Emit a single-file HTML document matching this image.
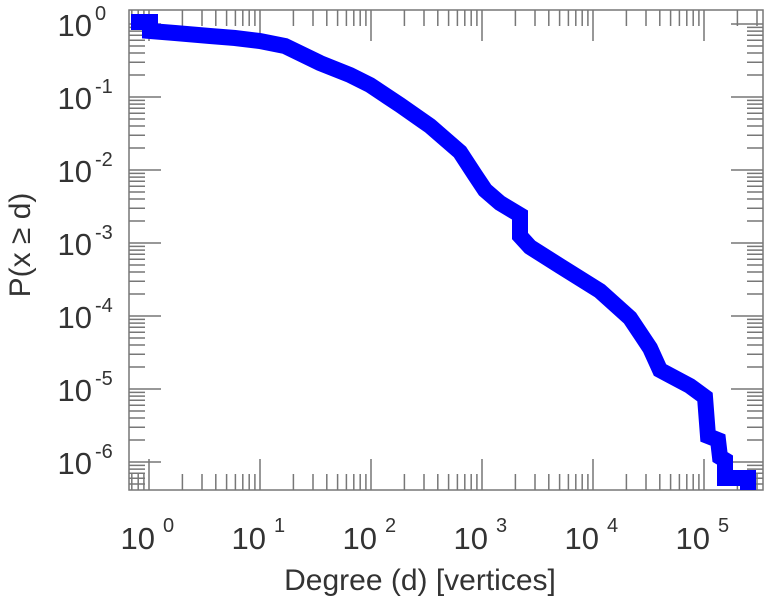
<!DOCTYPE html>
<html><head><style>body{margin:0;background:#fff}</style></head><body>
<svg width="766" height="600" xmlns="http://www.w3.org/2000/svg" font-family="Liberation Sans, sans-serif" fill="#333">
<g stroke="#777" stroke-width="1.5" fill="none">
<rect x="129" y="10" width="634" height="480"/>
<path d="M131.8 490v-16M138.2 490v-16M143.9 490v-16M182.4 490v-16M202 490v-16M215.8 490v-16M226.6 490v-16M235.4 490v-16M242.8 490v-16M249.2 490v-16M254.9 490v-16M293.4 490v-16M313 490v-16M326.8 490v-16M337.6 490v-16M346.4 490v-16M353.8 490v-16M360.2 490v-16M365.9 490v-16M404.4 490v-16M424 490v-16M437.8 490v-16M448.6 490v-16M457.4 490v-16M464.8 490v-16M471.2 490v-16M476.9 490v-16M515.4 490v-16M535 490v-16M548.8 490v-16M559.6 490v-16M568.4 490v-16M575.8 490v-16M582.2 490v-16M587.9 490v-16M626.4 490v-16M646 490v-16M659.8 490v-16M670.6 490v-16M679.4 490v-16M686.8 490v-16M693.2 490v-16M698.9 490v-16M737.4 490v-16M757 490v-16"/>
<path d="M131.8 10v16M138.2 10v16M143.9 10v16M182.4 10v16M202 10v16M215.8 10v16M226.6 10v16M235.4 10v16M242.8 10v16M249.2 10v16M254.9 10v16M293.4 10v16M313 10v16M326.8 10v16M337.6 10v16M346.4 10v16M353.8 10v16M360.2 10v16M365.9 10v16M404.4 10v16M424 10v16M437.8 10v16M448.6 10v16M457.4 10v16M464.8 10v16M471.2 10v16M476.9 10v16M515.4 10v16M535 10v16M548.8 10v16M559.6 10v16M568.4 10v16M575.8 10v16M582.2 10v16M587.9 10v16M626.4 10v16M646 10v16M659.8 10v16M670.6 10v16M679.4 10v16M686.8 10v16M693.2 10v16M698.9 10v16M737.4 10v16M757 10v16"/>
<path d="M149 490v-31M260 490v-31M371 490v-31M482 490v-31M593 490v-31M704 490v-31M149 10v31M260 10v31M371 10v31M482 10v31M593 10v31M704 10v31"/>
<path d="M129 27.4h16M129 31.1h16M129 35.3h16M129 40.2h16M129 46h16M129 53h16M129 62.2h16M129 75h16M129 100.4h16M129 104.1h16M129 108.3h16M129 113.2h16M129 119h16M129 126h16M129 135.2h16M129 148h16M129 173.4h16M129 177.1h16M129 181.3h16M129 186.2h16M129 192h16M129 199h16M129 208.2h16M129 221h16M129 246.4h16M129 250.1h16M129 254.3h16M129 259.2h16M129 265h16M129 272h16M129 281.2h16M129 294h16M129 319.4h16M129 323.1h16M129 327.3h16M129 332.2h16M129 338h16M129 345h16M129 354.2h16M129 367h16M129 392.4h16M129 396.1h16M129 400.3h16M129 405.2h16M129 411h16M129 418h16M129 427.2h16M129 440h16M129 465.4h16M129 469.1h16M129 473.3h16M129 478.2h16M129 484h16"/>
<path d="M763 27.4h-16M763 31.1h-16M763 35.3h-16M763 40.2h-16M763 46h-16M763 53h-16M763 62.2h-16M763 75h-16M763 100.4h-16M763 104.1h-16M763 108.3h-16M763 113.2h-16M763 119h-16M763 126h-16M763 135.2h-16M763 148h-16M763 173.4h-16M763 177.1h-16M763 181.3h-16M763 186.2h-16M763 192h-16M763 199h-16M763 208.2h-16M763 221h-16M763 246.4h-16M763 250.1h-16M763 254.3h-16M763 259.2h-16M763 265h-16M763 272h-16M763 281.2h-16M763 294h-16M763 319.4h-16M763 323.1h-16M763 327.3h-16M763 332.2h-16M763 338h-16M763 345h-16M763 354.2h-16M763 367h-16M763 392.4h-16M763 396.1h-16M763 400.3h-16M763 405.2h-16M763 411h-16M763 418h-16M763 427.2h-16M763 440h-16M763 465.4h-16M763 469.1h-16M763 473.3h-16M763 478.2h-16M763 484h-16"/>
<path d="M129 24h32M129 97h32M129 170h32M129 243h32M129 316h32M129 389h32M129 462h32M763 24h-32M763 97h-32M763 170h-32M763 243h-32M763 316h-32M763 389h-32M763 462h-32"/>
</g>
<polyline fill="none" stroke="#0000ff" stroke-width="16" stroke-linejoin="miter" points="131,22 150,22 150,31 175,33 210,36 235,38 260,41 285,46 320,63 350,75 370,85 400,105 430,126 460,152 475,175 485,190 500,203 520,215 520,236 530,247 560,266 600,291 630,318 650,348 660,370 690,386 705,397 708,436 718,440 720,457 725,460 725,478 748,478 748,490"/>
<g font-size="31" text-anchor="end">
<text x="92" y="36">10</text><text x="95" y="20" font-size="20" text-anchor="start">0</text>
<text x="92" y="109">10</text><text x="95" y="93" font-size="20" text-anchor="start">-1</text>
<text x="92" y="182">10</text><text x="95" y="166" font-size="20" text-anchor="start">-2</text>
<text x="92" y="255">10</text><text x="95" y="239" font-size="20" text-anchor="start">-3</text>
<text x="92" y="328">10</text><text x="95" y="312" font-size="20" text-anchor="start">-4</text>
<text x="92" y="401">10</text><text x="95" y="385" font-size="20" text-anchor="start">-5</text>
<text x="92" y="474">10</text><text x="95" y="458" font-size="20" text-anchor="start">-6</text>
</g>
<g font-size="31" text-anchor="end">
<text x="155" y="549">10</text><text x="163" y="532" font-size="20" text-anchor="start">0</text>
<text x="266" y="549">10</text><text x="274" y="532" font-size="20" text-anchor="start">1</text>
<text x="377" y="549">10</text><text x="385" y="532" font-size="20" text-anchor="start">2</text>
<text x="488" y="549">10</text><text x="496" y="532" font-size="20" text-anchor="start">3</text>
<text x="599" y="549">10</text><text x="607" y="532" font-size="20" text-anchor="start">4</text>
<text x="710" y="549">10</text><text x="718" y="532" font-size="20" text-anchor="start">5</text>
</g>
<text x="420" y="590" font-size="30" text-anchor="middle">Degree (d) [vertices]</text>
<text transform="translate(30,245) rotate(-90)" font-size="30" text-anchor="middle">P(x ≥ d)</text>
</svg>
</body></html>
